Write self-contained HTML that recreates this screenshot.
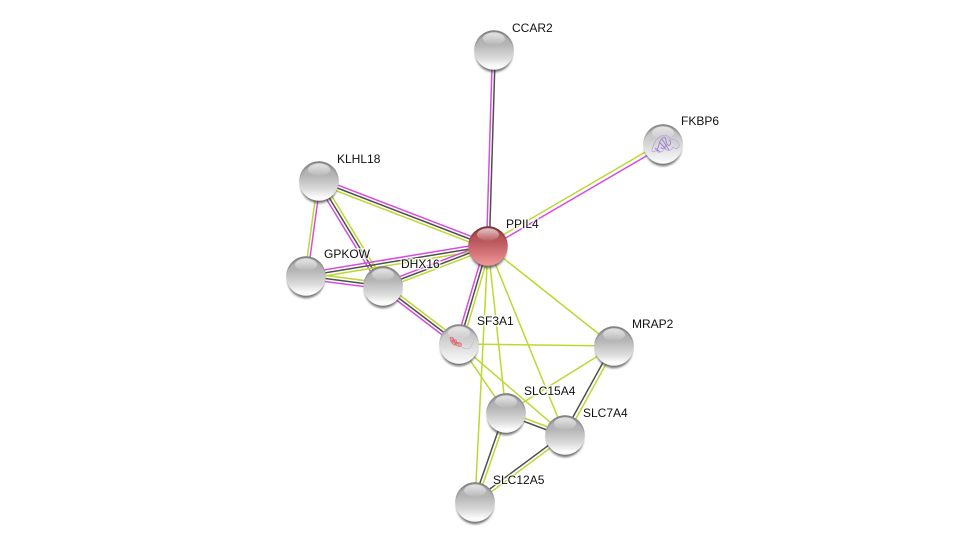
<!DOCTYPE html>
<html><head><meta charset="utf-8"><style>
html,body{margin:0;padding:0;background:#fff;width:976px;height:547px;overflow:hidden}
svg{display:block}
text{font-family:"Liberation Sans",sans-serif;font-size:12px;fill:#111;stroke:#fff;stroke-width:3px;stroke-opacity:.7;paint-order:stroke}
.m,.d,.g{fill:none;stroke-width:1.5}
.m{stroke:#d94ce0}.d{stroke:#505050}.g{stroke:#bcd832}
</style></head><body>
<svg width="976" height="547" viewBox="0 0 976 547" xmlns="http://www.w3.org/2000/svg">
<defs>
<linearGradient id="gb" x1="0" y1="0" x2="0" y2="1">
<stop offset="0" stop-color="#b0b0b0"/><stop offset=".35" stop-color="#b4b4b4"/><stop offset=".7" stop-color="#dadada"/><stop offset=".92" stop-color="#fdfdfd"/><stop offset="1" stop-color="#f8f8f8"/>
</linearGradient>
<linearGradient id="gr" x1="0" y1="0" x2="0" y2="1">
<stop offset="0" stop-color="#a84448"/><stop offset=".4" stop-color="#bb5a5e"/><stop offset=".75" stop-color="#dc7c80"/><stop offset="1" stop-color="#f29a9c"/>
</linearGradient>
<linearGradient id="gw" x1="0" y1="0" x2="0" y2="1">
<stop offset="0" stop-color="#b4b4b4"/><stop offset=".35" stop-color="#cccccc"/><stop offset=".75" stop-color="#eaeaea"/><stop offset="1" stop-color="#fcfcfc"/>
</linearGradient>
<linearGradient id="hl" x1="0" y1="0" x2="0" y2="1">
<stop offset="0" stop-color="#fff" stop-opacity=".7"/><stop offset="1" stop-color="#fff" stop-opacity=".05"/>
</linearGradient>
<radialGradient id="rim" cx=".5" cy=".6" r=".6">
<stop offset=".82" stop-color="#000" stop-opacity="0"/><stop offset="1" stop-color="#000" stop-opacity=".35"/>
</radialGradient>
<filter id="bl" x="-30%" y="-30%" width="160%" height="160%"><feGaussianBlur stdDeviation="1"/></filter>
<g id="nb">
<ellipse cx="0" cy="3.400" rx="18.600" ry="18.800" fill="#3a3a3a" opacity=".7" filter="url(#bl)"/>
<circle r="19.800" fill="url(#gb)"/><circle r="19.800" fill="url(#rim)"/>
<ellipse cx="0" cy="-11.500" rx="11" ry="6.200" fill="url(#hl)"/>
</g>
<g id="nw">
<ellipse cx="0" cy="3.400" rx="18.600" ry="18.800" fill="#3a3a3a" opacity=".7" filter="url(#bl)"/>
<circle r="19.800" fill="url(#gw)"/><circle r="19.800" fill="url(#rim)"/>
<ellipse cx="0" cy="-11.500" rx="11" ry="6.200" fill="url(#hl)"/>
</g>
<g id="nr">
<ellipse cx="0" cy="3.400" rx="18.600" ry="18.800" fill="#3a3a3a" opacity=".7" filter="url(#bl)"/>
<circle r="19.800" fill="url(#gr)"/><circle r="19.800" fill="url(#rim)"/>
<ellipse cx="0" cy="-11.500" rx="11" ry="6.200" fill="url(#hl)"/>
</g>
</defs>

<!-- CCAR2-PPIL4 -->
<path class="m" d="M492.500 50L486.500 246"/><path class="d" d="M495.300 50L489.300 246"/>
<!-- FKBP6-PPIL4 -->
<path class="g" d="M662 142.300L487 244.300"/><path class="m" d="M664 145.700L489 247.700"/>
<!-- KLHL18-PPIL4 -->
<path class="m" d="M320 178.200L489 243.200"/><path class="d" d="M319 181L488 246"/><path class="g" d="M318 183.800L487 248.800"/>
<!-- KLHL18-GPKOW -->
<path class="g" d="M317.700 181L304.700 276"/><path class="m" d="M320.500 181L307.500 276"/>
<!-- KLHL18-DHX16 -->
<path class="m" d="M316.400 182.600L380.400 287.600"/><path class="d" d="M319 181L383 286"/><path class="g" d="M321.600 179.400L385.600 284.400"/>
<!-- GPKOW-PPIL4 -->
<path class="m" d="M305.500 273L487.500 243"/><path class="d" d="M306 276L488 246"/><path class="g" d="M306.500 279L488.500 249"/>
<!-- GPKOW-DHX16 -->
<path class="g" d="M306.400 273L383.400 283"/><path class="d" d="M306 276L383 286"/><path class="m" d="M305.600 279L382.600 289"/>
<!-- DHX16-PPIL4 -->
<path class="m" d="M382 283.300L487 243.300"/><path class="d" d="M383 286L488 246"/><path class="g" d="M384 288.700L489 248.700"/>
<!-- DHX16-SF3A1 -->
<path class="g" d="M384.800 283.600L460.800 341.600"/><path class="d" d="M383 286L459 344"/><path class="m" d="M381.200 288.400L457.200 346.400"/>
<!-- PPIL4-SF3A1 -->
<path class="m" d="M485.100 245.200L456.100 343.200"/><path class="d" d="M488 246L459 344"/><path class="g" d="M490.900 246.800L461.900 344.800"/>
<!-- green singles -->
<path class="g" d="M488 246L614 346"/><path class="g" d="M488 246L565 435"/><path class="g" d="M488 246L506 413"/><path class="g" d="M488 246L475 502"/>
<path class="g" d="M459 344L614 346"/><path class="g" d="M459 344L506 413"/><path class="g" d="M459 344L565 435"/><path class="g" d="M506 413L614 346"/>
<!-- MRAP2-SLC7A4 -->
<path class="d" d="M612.600 345L563.600 434"/><path class="g" d="M615.400 347L566.400 436"/>
<!-- SLC15A4-SLC7A4 -->
<path class="g" d="M506.500 411.500L565.500 433.500"/><path class="d" d="M505.500 414.500L564.500 436.500"/>
<!-- SLC15A4-SLC12A5 -->
<path class="d" d="M504.500 412.500L473.500 501.500"/><path class="g" d="M507.500 413.500L476.500 502.500"/>
<!-- SLC7A4-SLC12A5 -->
<path class="d" d="M564 433.800L474 500.800"/><path class="g" d="M566 436.200L476 503.200"/>

<text x="512" y="32">CCAR2</text>
<text x="681" y="125">FKBP6</text>
<text x="337" y="163">KLHL18</text>
<text x="506" y="228">PPIL4</text>
<text x="324" y="258">GPKOW</text>
<text x="401" y="268">DHX16</text>
<text x="477" y="325">SF3A1</text>
<text x="632" y="328">MRAP2</text>
<text x="524" y="395">SLC15A4</text>
<text x="583" y="417">SLC7A4</text>
<text x="493" y="484">SLC12A5</text>

<use href="#nb" x="494" y="50"/>
<use href="#nw" x="663" y="144"/>
<g transform="translate(663,144)" fill="none">
<path d="M-11 6C-9 -2 -6 -6 -2 -8C2 -10 6 -8 8 -4C11 -6 15 -3 16 0C17 4 13 6 10 3C8 7 4 8 2 4C0 8 -5 10 -7 6C-9 9 -12 8 -11 6Z" stroke="#b8a2d8" stroke-width=".7"/>
<path d="M-6 7C-4 1 -3 -6 1 -7C4 -7 2 -1 5 1C7 3 9 -2 6 -4M-2 3C-2 6 3 4 3 0M-8 4L-3 8M-4 -2L3 5M-1 -5L6 6" stroke="#a07cd0" stroke-width=".9"/>
<path d="M-14 -3C-11 -6 -8 -5 -6 -2M9 -1C12 -3 14 -1 13 3" stroke="#c4c4d0" stroke-width=".6"/>
</g>
<use href="#nb" x="319" y="181"/>
<use href="#nb" x="306" y="276"/>
<use href="#nb" x="383" y="286"/>
<use href="#nw" x="459" y="344"/>
<g transform="translate(459,344)" fill="none">
<path d="M-9 -6C-6 -8 -5 -5 -7 -3C-4 -5 -1 -4 -3 -1C0 -2 4 -1 2 2C0 4 -3 0 -5 1C-7 -1 -9 -3 -9 -6Z" fill="#e8a0a6" stroke="#dc6c76" stroke-width=".8"/>
<path d="M-6 -6L-3 1M-8 -3L0 0" stroke="#d8606a" stroke-width=".8"/>
<path d="M2 2C6 6 11 6 13 1C14 -2 15 -5 15 -6" stroke="#c0c0c0" stroke-width=".6"/>
</g>
<use href="#nb" x="614" y="346"/>
<use href="#nb" x="506" y="413"/>
<use href="#nb" x="565" y="435"/>
<use href="#nb" x="475" y="502"/>
<use href="#nr" x="488" y="246"/>
</svg>
</body></html>
